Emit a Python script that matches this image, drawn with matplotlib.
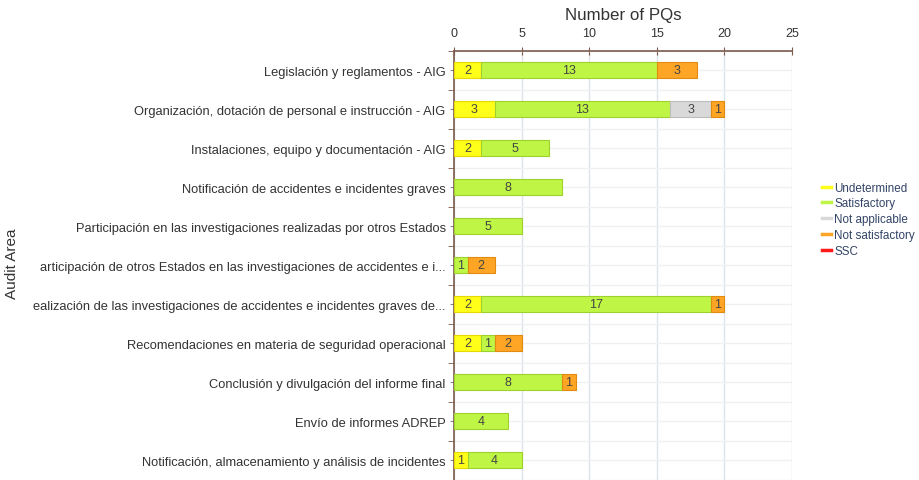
import matplotlib
matplotlib.use("Agg")
import matplotlib.pyplot as plt
import numpy as np

plt.rcParams['font.family'] = ['Liberation Sans', 'DejaVu Sans']

# audit areas, top to bottom
areas = [
    "Legislación y reglamentos - AIG",
    "Organización, dotación de personal e instrucción - AIG",
    "Instalaciones, equipo y documentación - AIG",
    "Notificación de accidentes e incidentes graves",
    "Participación en las investigaciones realizadas por otros Estados",
    "articipación de otros Estados en las investigaciones de accidentes e i...",
    "ealización de las investigaciones de accidentes e incidentes graves de...",
    "Recomendaciones en materia de seguridad operacional",
    "Conclusión y divulgación del informe final",
    "Envío de informes ADREP",
    "Notificación, almacenamiento y análisis de incidentes",
]

undetermined = [2, 3, 2, 0, 0, 0, 2, 2, 0, 0, 1]
satisfactory = [13, 13, 5, 8, 5, 1, 17, 1, 8, 4, 4]
not_applicable = [0, 3, 0, 0, 0, 0, 0, 0, 0, 0, 0]
not_satisfactory = [3, 1, 0, 0, 0, 2, 1, 2, 1, 0, 0]
ssc = [0, 0, 0, 0, 0, 0, 0, 0, 0, 0, 0]

series = [
    ("Undetermined", undetermined, "#ffff1a", "#e6d800"),
    ("Satisfactory", satisfactory, "#bff545", "#9ed12e"),
    ("Not applicable", not_applicable, "#d9d9d9", "#bdbdbd"),
    ("Not satisfactory", not_satisfactory, "#ffa526", "#e08a10"),
    ("SSC", ssc, "#ff1a1a", "#d40000"),
]

spine_col = "#7a5a4a"
text_col = "#333333"

fig = plt.figure(figsize=(9.19, 4.81), dpi=100)
ax = fig.add_axes([454 / 919, 0.0, 338 / 919, 1 - 51.5 / 481])

y = np.arange(len(areas))
left = np.zeros(len(areas))
for name, vals, col, edge in series:
    vals = np.array(vals, dtype=float)
    nz = vals > 0
    ax.barh(y[nz], vals[nz], left=left[nz], height=0.41, color=col,
            edgecolor=edge, linewidth=0.8, zorder=3)
    for yi in y[nz]:
        ax.text(left[yi] + vals[yi] / 2, yi, f"{int(vals[yi])}", ha="center",
                va="center", fontsize=9, color="#444444", zorder=4)
    left += vals
    ax.plot([], [], color=col, linewidth=2.5, label=name)

ax.set_xlim(0, 25)
ax.set_ylim(len(areas) - 0.5, -0.5)
ax.xaxis.tick_top()
ax.xaxis.set_label_position("top")
ax.set_xticks([0, 5, 10, 15, 20, 25])
ax.set_yticks(y)
ax.set_yticklabels(areas)
ax.set_yticks(np.arange(-0.5, len(areas), 1), minor=True)

ax.grid(axis="x", color="#dde3ea", linewidth=1, zorder=0)
ax.grid(axis="y", which="both", color="#f0f0f0", linewidth=1, zorder=0)

for s in ["right", "bottom"]:
    ax.spines[s].set_visible(False)
for s in ["top", "left"]:
    ax.spines[s].set_color(spine_col)
    ax.spines[s].set_linewidth(1.2)

ax.tick_params(axis="x", colors=spine_col, labelcolor=text_col, labelsize=9,
               direction="inout", length=6, pad=5)
ax.tick_params(axis="y", which="major", colors="#888888", labelcolor=text_col,
               labelsize=9.3, direction="out", length=3, pad=3)
ax.tick_params(axis="y", which="minor", colors=spine_col, direction="out",
               length=4)

ax.set_xlabel("Number of PQs", fontsize=12.2, color=text_col, labelpad=6)
fig.text(12 / 919, 1 - 264 / 481, "Audit Area", rotation=90, fontsize=11,
         color=text_col, ha="center", va="center")

leg = fig.legend(loc="upper left", bbox_to_anchor=(817 / 919, 1 - 178 / 481),
                 frameon=False, fontsize=8.4, handlelength=0.8,
                 handletextpad=0.3, labelspacing=0.32, borderaxespad=0)
for t in leg.get_texts():
    t.set_color("#334466")

fig.savefig("out.png", dpi=100)
